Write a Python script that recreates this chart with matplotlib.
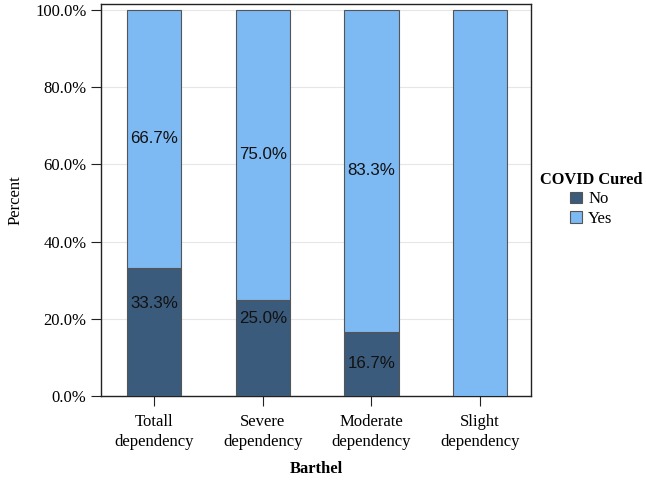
import matplotlib.pyplot as plt
import numpy as np

categories = ["Totall\ndependency", "Severe\ndependency", "Moderate\ndependency", "Slight\ndependency"]
pct_no = [33.3, 25.0, 16.7, 0.0]
pct_yes = [66.7, 75.0, 83.3, 100.0]
groups = ["No", "Yes"]

c_no = "#3b5b7d"
c_yes = "#7db9f3"

plt.rcParams['font.family'] = ['Liberation Serif', 'DejaVu Serif']

fig = plt.figure(figsize=(6.46, 4.8), dpi=100)
ax = fig.add_axes([0.1563, 0.175, 0.666, 0.8167])

x = np.arange(len(categories))
no = np.array(pct_no)
yes = np.array(pct_yes)
ax.bar(x, no, width=0.5, color=c_no, edgecolor="#555555", linewidth=0.8, label=groups[0], zorder=3)
ax.bar(x, yes, width=0.5, bottom=no, color=c_yes, edgecolor="#555555", linewidth=0.8, label=groups[1], zorder=3)

# labels: yes centred in segment, no labels placed as in the original
no_label_y = [24.0, 20.0, 8.3]
for i in range(len(categories)):
    if no[i] > 0:
        ax.text(x[i], no_label_y[i], f"{no[i]:.1f}%", ha="center", va="center",
                fontsize=12.2, family="Liberation Sans", color="#111111", zorder=4)
        ax.text(x[i], no[i] + yes[i] / 2, f"{yes[i]:.1f}%", ha="center", va="center",
                fontsize=12.2, family="Liberation Sans", color="#111111", zorder=4)

ax.set_xlim(-0.49, 3.47)
ax.set_ylim(0, 101.6)
ax.set_yticks(np.arange(0, 101, 20))
ax.set_yticklabels([f"{v:.1f}%" for v in np.arange(0, 101, 20)], fontsize=12)
ax.set_xticks(x)
ax.set_xticklabels(categories, fontsize=12, linespacing=1.35)
ax.tick_params(axis="both", direction="out", length=7, width=0.8, color="#222222")
ax.tick_params(axis="x", pad=6)
ax.yaxis.grid(True, color="#e6e6e6", linewidth=0.8, zorder=0)
for s in ax.spines.values():
    s.set_color("#222222")
    s.set_linewidth(1.0)

ax.set_ylabel("Percent", fontsize=12, labelpad=8)
ax.set_xlabel("Barthel", fontsize=12, fontweight="bold", labelpad=8)

leg = fig.legend(loc="center left", bbox_to_anchor=(0.836, 0.585), frameon=False,
                 borderaxespad=0, borderpad=0,
                 title="COVID Cured", fontsize=12, handlelength=0.7, handleheight=0.7,
                 handletextpad=0.4, labelspacing=0.2)
leg.get_title().set_fontweight("bold")
leg.get_title().set_fontsize(11.8)

fig.savefig("out.png", dpi=100)
